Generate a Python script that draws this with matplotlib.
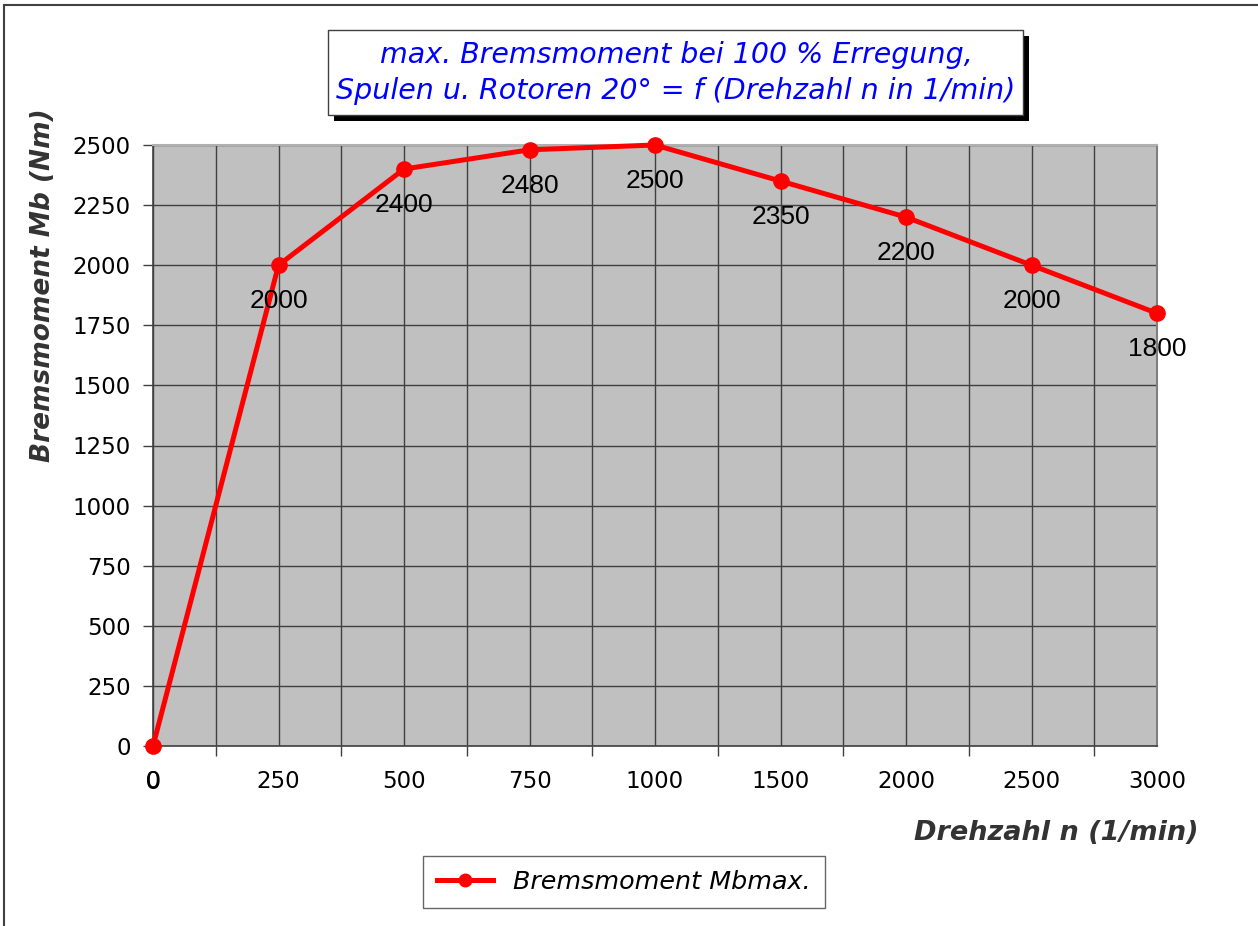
import matplotlib
matplotlib.use("Agg")
import matplotlib.pyplot as plt
from matplotlib.lines import Line2D
from matplotlib.patches import Rectangle

# Daten
drehzahl = ["0", "250", "500", "750", "1000", "1500", "2000", "2500", "3000"]
bremsmoment = [0, 2000, 2400, 2480, 2500, 2350, 2200, 2000, 1800]
y_ticks = [0, 250, 500, 750, 1000, 1250, 1500, 1750, 2000, 2250, 2500]

titel = "max. Bremsmoment bei 100 % Erregung,\nSpulen u. Rotoren 20° = f (Drehzahl n in 1/min)"
reihe = "Bremsmoment Mbmax."

W, H = 1258, 926
fig = plt.figure(figsize=(W / 100, H / 100), dpi=100)
ax = fig.add_axes([153 / W, 1 - 746 / H, (1157 - 153) / W, (746 - 145) / H])
ax.set_facecolor("#c0c0c0")

pos = list(range(len(drehzahl)))
ax.plot(pos, bremsmoment, color="#ff0000", lw=3.6, marker="o", markersize=11,
        solid_joinstyle="round", zorder=5, clip_on=False)

for x, y in zip(pos, bremsmoment):
    ax.annotate(str(y), (x, y), xytext=(0, -26), textcoords="offset points",
                ha="center", va="center", fontsize=19, family="Liberation Sans",
                color="black", zorder=6, annotation_clip=False)

ax.set_xlim(0, len(drehzahl) - 1)
ax.set_ylim(0, 2500)

ax.set_xticks(pos)
ax.set_xticklabels(drehzahl, fontsize=16.5, family="DejaVu Sans")
ax.set_xticks([p + 0.5 for p in pos[:-1]] + [pos[-1]], minor=True)
ax.tick_params(axis="x", which="major", length=0, pad=17)
ax.tick_params(axis="x", which="minor", length=7, width=1, color="#404040", direction="out")

ax.set_yticks(y_ticks)
ax.set_yticklabels([str(v) for v in y_ticks], fontsize=16.5, family="DejaVu Sans")
ax.tick_params(axis="y", length=7, width=1, color="#404040", direction="out", pad=9)

ax.grid(True, which="both", axis="x", color="#404040", lw=1)
ax.grid(True, which="major", axis="y", color="#404040", lw=1)
ax.set_axisbelow(True)

for s in ["left", "bottom"]:
    ax.spines[s].set_color("#404040")
    ax.spines[s].set_linewidth(1.2)
ax.spines["top"].set_color("#b0b0b0")
ax.spines["right"].set_color("#808080")
ax.spines["top"].set_linewidth(1.5)
ax.spines["right"].set_linewidth(1.5)

# Achsentitel
fig.text(43 / W, 1 - 285 / H, "Bremsmoment Mb (Nm)", rotation=90, ha="center", va="center",
         fontsize=19, fontweight="bold", fontstyle="italic", color="#333333", family="DejaVu Sans")
fig.text(1198 / W, 1 - 833 / H, "Drehzahl n (1/min)", ha="right", va="center",
         fontsize=19.5, fontweight="bold", fontstyle="italic", color="#333333", family="DejaVu Sans")

# Titel mit Schatten
fig.patches.append(Rectangle((334 / W, 1 - 121 / H), 695 / W, 85 / H,
                             transform=fig.transFigure, facecolor="black", edgecolor="none"))
fig.patches.append(Rectangle((328 / W, 1 - 115 / H), 695 / W, 85 / H,
                             transform=fig.transFigure, facecolor="white", edgecolor="#404040", lw=1))
fig.text(676 / W, 1 - 73 / H, titel, ha="center", va="center", fontsize=20.5,
         fontstyle="italic", color="#0000ff", family="DejaVu Sans", linespacing=1.35)

# Legende
handle = Line2D([], [], color="#ff0000", lw=3.6, marker="o", markersize=9)
leg = fig.legend([handle], [reihe], loc="center", bbox_to_anchor=(624 / W, 1 - 882 / H),
                 prop={"family": "DejaVu Sans", "style": "italic", "size": 18.3},
                 frameon=True, fancybox=False, edgecolor="#404040", handlelength=2.2,
                 borderpad=0.55, handletextpad=0.8, borderaxespad=0)
leg.get_frame().set_linewidth(1)

# Rahmen
fig.add_artist(Line2D([4 / W, 1], [1 - 5 / H, 1 - 5 / H], transform=fig.transFigure, color="#404040", lw=1.5))
fig.add_artist(Line2D([4 / W, 4 / W], [0, 1 - 5 / H], transform=fig.transFigure, color="#404040", lw=1.5))

fig.savefig("out.png", dpi=100)
